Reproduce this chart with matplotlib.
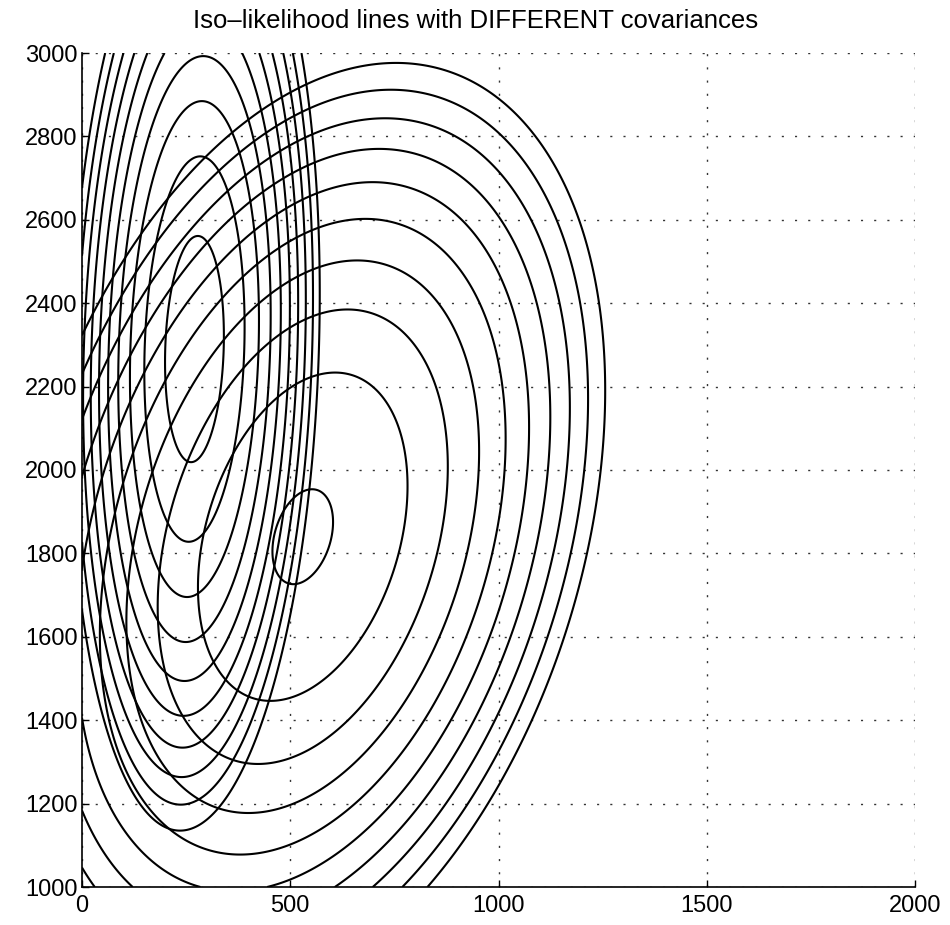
import numpy as np
import matplotlib
matplotlib.use("Agg")
from matplotlib import pyplot as plt

plt.rcParams['font.family'] = ['Liberation Sans', 'DejaVu Sans']

# two gaussian classes (F1, F2) - means and covariances
mean_1 = [270, 2290]
cov_1 = [[2375, 1050],
         [1050, 35000]]
mean_2 = [530, 1840]
cov_2 = [[14500, 7000],
         [7000, 35500]]

# log-likelihood levels drawn for both classes
levels = [-30, -28, -26, -24, -22, -20, -18, -16, -14, -12]

x_ticks = [0, 500, 1000, 1500, 2000]
y_ticks = [1000, 1200, 1400, 1600, 1800, 2000, 2200, 2400, 2600, 2800, 3000]


def loglik(X, Y, mu, cov):
    cov = np.array(cov, dtype=float)
    inv = np.linalg.inv(cov)
    dx = X - mu[0]
    dy = Y - mu[1]
    d2 = inv[0, 0]*dx*dx + 2*inv[0, 1]*dx*dy + inv[1, 1]*dy*dy
    return -0.5*d2 - np.log(2*np.pi) - 0.5*np.log(np.linalg.det(cov))


xs = np.linspace(0, 2000, 801)
ys = np.linspace(1000, 3000, 801)
X, Y = np.meshgrid(xs, ys)

fig = plt.figure(figsize=(9.5, 9.25), dpi=100)
ax = fig.add_axes([82/950, 1-887/925, (915-82)/950, (887-53)/925])

for mu, cov in [(mean_1, cov_1), (mean_2, cov_2)]:
    ax.contour(X, Y, loglik(X, Y, mu, cov), levels=levels,
               colors='k', linewidths=1.5, linestyles='solid')

ax.set_xlim(0, 2000)
ax.set_ylim(1000, 3000)
ax.set_xticks(x_ticks)
ax.set_yticks(y_ticks)
ax.tick_params(direction='in', length=5, width=1, labelsize=17)
ax.tick_params(axis='x', pad=6)
ax.tick_params(axis='y', pad=3)
ax.grid(True, color='0.2', linestyle=(0, (1.5, 8)), linewidth=1)
ax.spines['top'].set_visible(False)
ax.spines['right'].set_visible(False)
ax.spines['left'].set_linewidth(1.2)
ax.spines['bottom'].set_linewidth(1.2)
ax.set_title('Iso\u2013likelihood lines with DIFFERENT covariances', fontsize=18.5, pad=18, x=0.472)

fig.savefig('out.png', dpi=100)
